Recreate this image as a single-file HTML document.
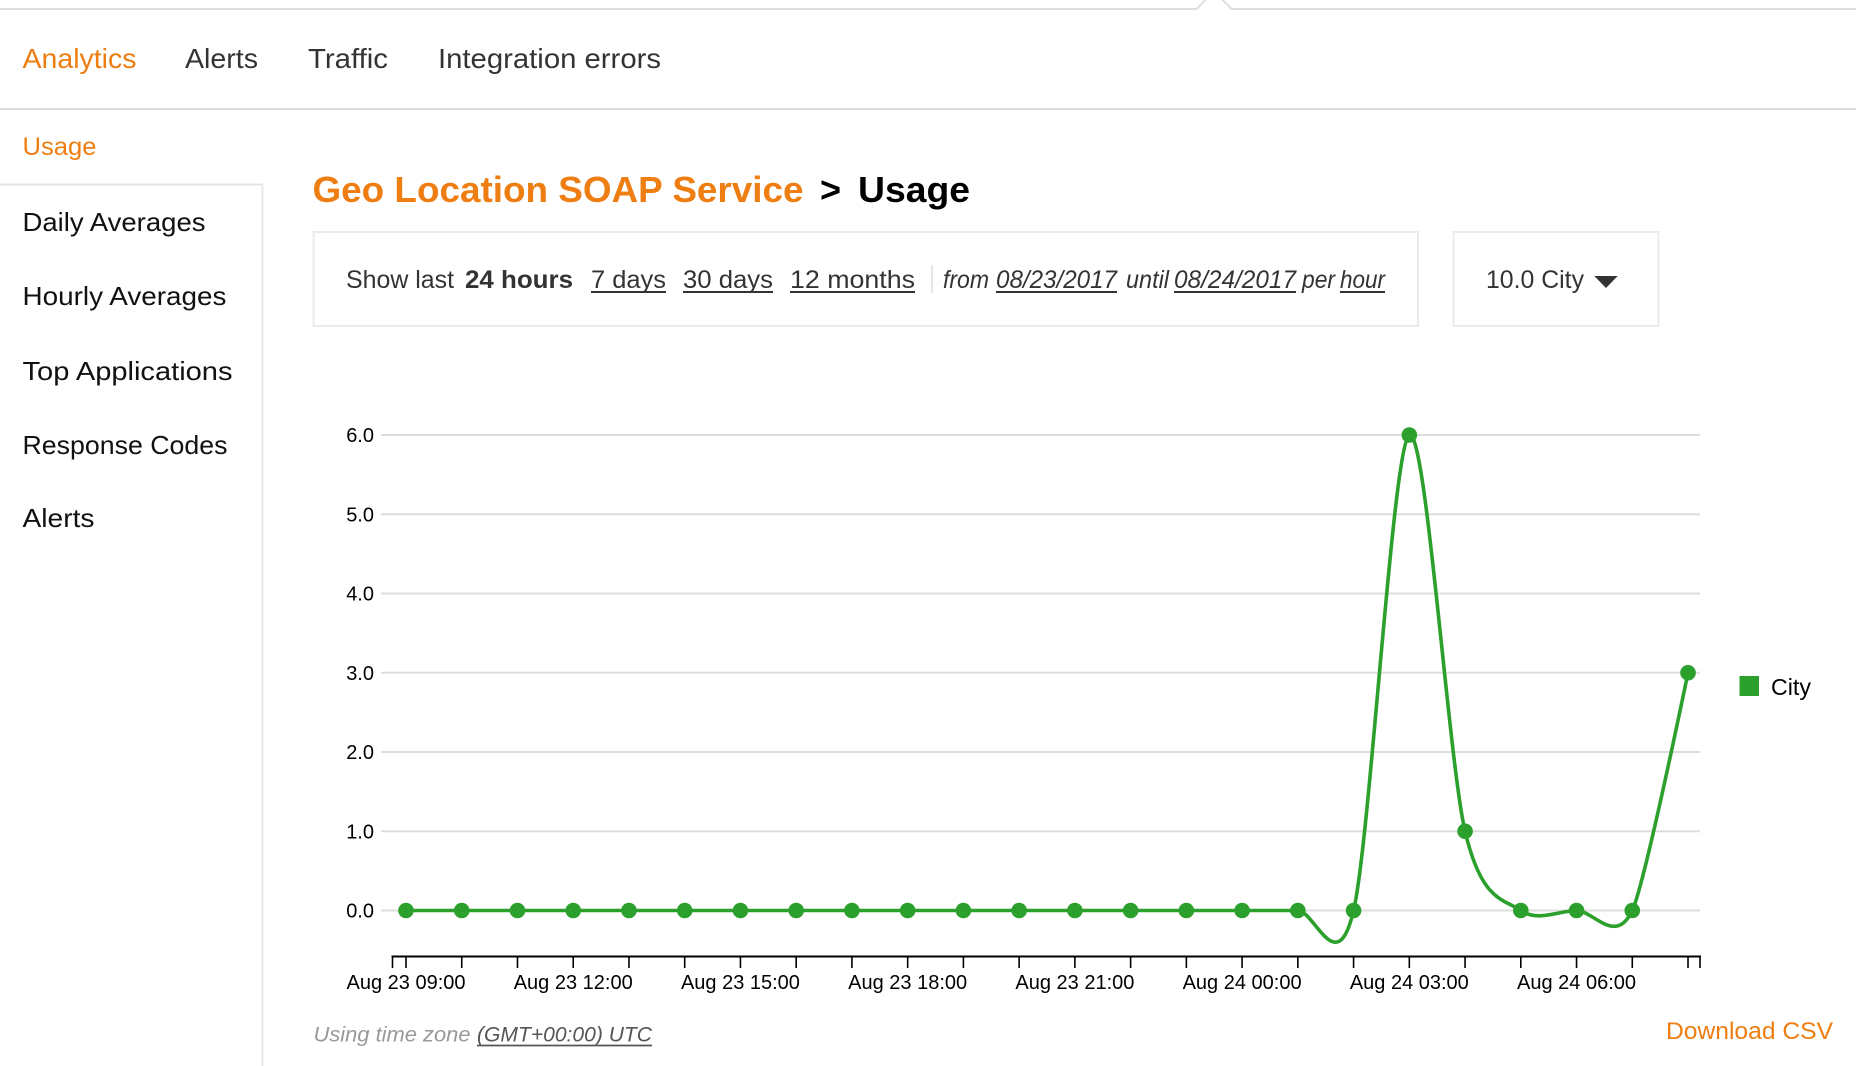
<!DOCTYPE html>
<html>
<head>
<meta charset="utf-8">
<style>
  html,body{margin:0;padding:0;background:#fff;}
  body{width:1856px;height:1066px;overflow:hidden;position:relative;}
  svg{position:absolute;left:0;top:0;display:block;}
  text{font-family:"Liberation Sans",Arial,Helvetica,sans-serif;}
</style>
</head>
<body>
<svg width="1856" height="1066" viewBox="0 0 1856 1066" xmlns="http://www.w3.org/2000/svg">
  <!-- top border with notch -->
  <polyline points="0,9 1196.7,9 1213.5,-9 1231.7,9 1856,9" fill="none" stroke="#dedede" stroke-width="2"/>

  <!-- nav tabs -->
  <text x="22.5" y="68" font-size="28" fill="#ee7d12" textLength="114" lengthAdjust="spacingAndGlyphs">Analytics</text>
  <text x="185" y="68" font-size="28" fill="#333" textLength="73" lengthAdjust="spacingAndGlyphs">Alerts</text>
  <text x="308" y="68" font-size="28" fill="#333" textLength="80" lengthAdjust="spacingAndGlyphs">Traffic</text>
  <text x="438" y="68" font-size="28" fill="#333" textLength="223" lengthAdjust="spacingAndGlyphs">Integration errors</text>
  <line x1="0" y1="109" x2="1856" y2="109" stroke="#dedede" stroke-width="2"/>

  <!-- sidebar -->
  <text x="22.5" y="155" font-size="25" fill="#ee7d12" textLength="74" lengthAdjust="spacingAndGlyphs">Usage</text>
  <line x1="0" y1="184.5" x2="263" y2="184.5" stroke="#e3e3e3" stroke-width="2"/>
  <line x1="262.5" y1="184" x2="262.5" y2="1066" stroke="#e8e8e8" stroke-width="2"/>
  <text x="22.5" y="231" font-size="26" fill="#111" textLength="183" lengthAdjust="spacingAndGlyphs">Daily Averages</text>
  <text x="22.5" y="305" font-size="26" fill="#111" textLength="204" lengthAdjust="spacingAndGlyphs">Hourly Averages</text>
  <text x="22.5" y="380" font-size="26" fill="#111" textLength="210" lengthAdjust="spacingAndGlyphs">Top Applications</text>
  <text x="22.5" y="454" font-size="26" fill="#111" textLength="205" lengthAdjust="spacingAndGlyphs">Response Codes</text>
  <text x="22.5" y="527" font-size="26" fill="#111" textLength="72" lengthAdjust="spacingAndGlyphs">Alerts</text>

  <!-- title -->
  <text x="312.5" y="202" font-size="36" font-weight="bold" fill="#ee7d12" textLength="491" lengthAdjust="spacingAndGlyphs">Geo Location SOAP Service</text>
  <text x="820" y="202" font-size="36" font-weight="bold" fill="#000">&gt;</text>
  <text x="858" y="202" font-size="36" font-weight="bold" fill="#000" textLength="112" lengthAdjust="spacingAndGlyphs">Usage</text>

  <!-- filter box -->
  <rect x="313.5" y="232" width="1104.5" height="94" fill="none" stroke="#ebebeb" stroke-width="2"/>
  <g font-size="25" fill="#333">
    <text x="346" y="288" textLength="108" lengthAdjust="spacingAndGlyphs">Show last</text>
    <text x="465" y="288" font-weight="bold" textLength="108" lengthAdjust="spacingAndGlyphs">24 hours</text>
    <text x="591" y="288" textLength="75" lengthAdjust="spacingAndGlyphs">7 days</text>
    <text x="683" y="288" textLength="90" lengthAdjust="spacingAndGlyphs">30 days</text>
    <text x="790" y="288" textLength="125" lengthAdjust="spacingAndGlyphs">12 months</text>
    <g font-style="italic">
      <text x="943" y="288" textLength="46" lengthAdjust="spacingAndGlyphs">from</text>
      <text x="996" y="288" textLength="121" lengthAdjust="spacingAndGlyphs">08/23/2017</text>
      <text x="1126" y="288" textLength="43" lengthAdjust="spacingAndGlyphs">until</text>
      <text x="1174" y="288" textLength="122" lengthAdjust="spacingAndGlyphs">08/24/2017</text>
      <text x="1302" y="288" textLength="33" lengthAdjust="spacingAndGlyphs">per</text>
      <text x="1340" y="288" textLength="45" lengthAdjust="spacingAndGlyphs">hour</text>
    </g>
  </g>
  <!-- underlines -->
  <g stroke="#333" stroke-width="2">
    <line x1="591" y1="292" x2="666" y2="292"/>
    <line x1="683" y1="292" x2="773" y2="292"/>
    <line x1="790" y1="292" x2="915" y2="292"/>
    <line x1="996" y1="292" x2="1117" y2="292"/>
    <line x1="1174" y1="292" x2="1296" y2="292"/>
    <line x1="1340" y1="292" x2="1385" y2="292"/>
  </g>
  <line x1="932" y1="265" x2="932" y2="293" stroke="#ddd" stroke-width="1.5"/>

  <!-- dropdown -->
  <rect x="1453.5" y="232" width="205" height="94" fill="none" stroke="#ebebeb" stroke-width="2"/>
  <text x="1486" y="288" font-size="25" fill="#333" textLength="98" lengthAdjust="spacingAndGlyphs">10.0 City</text>
  <polygon points="1594.3,276 1617.7,276 1606,288" fill="#333"/>

  <!-- chart gridlines -->
  <g stroke="#dddddd" stroke-width="2">
    <line x1="381" y1="435" x2="1700" y2="435"/>
    <line x1="381" y1="514.25" x2="1700" y2="514.25"/>
    <line x1="381" y1="593.5" x2="1700" y2="593.5"/>
    <line x1="381" y1="672.75" x2="1700" y2="672.75"/>
    <line x1="381" y1="752" x2="1700" y2="752"/>
    <line x1="381" y1="831.25" x2="1700" y2="831.25"/>
    <line x1="381" y1="910.5" x2="1700" y2="910.5"/>
  </g>
  <g font-size="20" fill="#000" text-anchor="end">
    <text x="374" y="442">6.0</text>
    <text x="374" y="521.25">5.0</text>
    <text x="374" y="600.5">4.0</text>
    <text x="374" y="679.75">3.0</text>
    <text x="374" y="759">2.0</text>
    <text x="374" y="838.25">1.0</text>
    <text x="374" y="917.5">0.0</text>
  </g>

  <!-- x axis -->
  <line x1="391.5" y1="956.5" x2="1701" y2="956.5" stroke="#000" stroke-width="2"/>
  <g stroke="#000" stroke-width="1.6">
    <line x1="392.5" y1="956" x2="392.5" y2="968"/>
    <line x1="1700" y1="956" x2="1700" y2="968"/>
    <line x1="406" y1="956" x2="406" y2="968"/>
    <line x1="461.74" y1="956" x2="461.74" y2="968"/>
    <line x1="517.48" y1="956" x2="517.48" y2="968"/>
    <line x1="573.22" y1="956" x2="573.22" y2="968"/>
    <line x1="628.96" y1="956" x2="628.96" y2="968"/>
    <line x1="684.7" y1="956" x2="684.7" y2="968"/>
    <line x1="740.44" y1="956" x2="740.44" y2="968"/>
    <line x1="796.18" y1="956" x2="796.18" y2="968"/>
    <line x1="851.92" y1="956" x2="851.92" y2="968"/>
    <line x1="907.66" y1="956" x2="907.66" y2="968"/>
    <line x1="963.4" y1="956" x2="963.4" y2="968"/>
    <line x1="1019.14" y1="956" x2="1019.14" y2="968"/>
    <line x1="1074.88" y1="956" x2="1074.88" y2="968"/>
    <line x1="1130.62" y1="956" x2="1130.62" y2="968"/>
    <line x1="1186.36" y1="956" x2="1186.36" y2="968"/>
    <line x1="1242.1" y1="956" x2="1242.1" y2="968"/>
    <line x1="1297.84" y1="956" x2="1297.84" y2="968"/>
    <line x1="1353.58" y1="956" x2="1353.58" y2="968"/>
    <line x1="1409.32" y1="956" x2="1409.32" y2="968"/>
    <line x1="1465.06" y1="956" x2="1465.06" y2="968"/>
    <line x1="1520.8" y1="956" x2="1520.8" y2="968"/>
    <line x1="1576.54" y1="956" x2="1576.54" y2="968"/>
    <line x1="1632.28" y1="956" x2="1632.28" y2="968"/>
    <line x1="1688.02" y1="956" x2="1688.02" y2="968"/>
  </g>
  <g font-size="20" fill="#000" text-anchor="middle">
    <text x="406" y="989">Aug 23 09:00</text>
    <text x="573.22" y="989">Aug 23 12:00</text>
    <text x="740.44" y="989">Aug 23 15:00</text>
    <text x="907.66" y="989">Aug 23 18:00</text>
    <text x="1074.88" y="989">Aug 23 21:00</text>
    <text x="1242.1" y="989">Aug 24 00:00</text>
    <text x="1409.32" y="989">Aug 24 03:00</text>
    <text x="1576.54" y="989">Aug 24 06:00</text>
  </g>

  <!-- series line -->
  <path d="M406,910.5 L1297.84,910.5 C1314.56,910.5 1336.86,981.83 1353.58,910.5 C1370.30,839.18 1392.60,446.89 1409.32,435 C1426.04,427.11 1448.34,759.93 1465.06,831.25 C1481.78,902.58 1504.08,898.61 1520.80,910.5 C1537.52,922.39 1559.82,910.5 1576.54,910.5 C1593.26,910.5 1615.56,946.16 1632.28,910.5 Q1643.43,886.73 1688.02,672.75" fill="none" stroke="#2ca02c" stroke-width="3.6" stroke-linejoin="round"/>
  <g fill="#2ca02c">
    <circle cx="406" cy="910.5" r="7.8"/>
    <circle cx="461.74" cy="910.5" r="7.8"/>
    <circle cx="517.48" cy="910.5" r="7.8"/>
    <circle cx="573.22" cy="910.5" r="7.8"/>
    <circle cx="628.96" cy="910.5" r="7.8"/>
    <circle cx="684.7" cy="910.5" r="7.8"/>
    <circle cx="740.44" cy="910.5" r="7.8"/>
    <circle cx="796.18" cy="910.5" r="7.8"/>
    <circle cx="851.92" cy="910.5" r="7.8"/>
    <circle cx="907.66" cy="910.5" r="7.8"/>
    <circle cx="963.4" cy="910.5" r="7.8"/>
    <circle cx="1019.14" cy="910.5" r="7.8"/>
    <circle cx="1074.88" cy="910.5" r="7.8"/>
    <circle cx="1130.62" cy="910.5" r="7.8"/>
    <circle cx="1186.36" cy="910.5" r="7.8"/>
    <circle cx="1242.1" cy="910.5" r="7.8"/>
    <circle cx="1297.84" cy="910.5" r="7.8"/>
    <circle cx="1353.58" cy="910.5" r="7.8"/>
    <circle cx="1409.32" cy="435" r="7.8"/>
    <circle cx="1465.06" cy="831.25" r="7.8"/>
    <circle cx="1520.8" cy="910.5" r="7.8"/>
    <circle cx="1576.54" cy="910.5" r="7.8"/>
    <circle cx="1632.28" cy="910.5" r="7.8"/>
    <circle cx="1688.02" cy="672.75" r="7.8"/>
  </g>

  <!-- legend -->
  <rect x="1739.5" y="676" width="19.5" height="20" fill="#2ca02c"/>
  <text x="1771" y="695" font-size="23" fill="#000" textLength="40" lengthAdjust="spacingAndGlyphs">City</text>

  <!-- footer -->
  <text x="313.5" y="1041.5" font-size="21.5" font-style="italic" fill="#999" textLength="157" lengthAdjust="spacingAndGlyphs">Using time zone</text>
  <text x="477" y="1041.5" font-size="21.5" font-style="italic" fill="#555" textLength="175" lengthAdjust="spacingAndGlyphs">(GMT+00:00) UTC</text>
  <line x1="477" y1="1045.5" x2="652" y2="1045.5" stroke="#555" stroke-width="1.8"/>
  <text x="1666" y="1039" font-size="24" fill="#ee7d12" textLength="167" lengthAdjust="spacingAndGlyphs">Download CSV</text>
</svg>
</body>
</html>
